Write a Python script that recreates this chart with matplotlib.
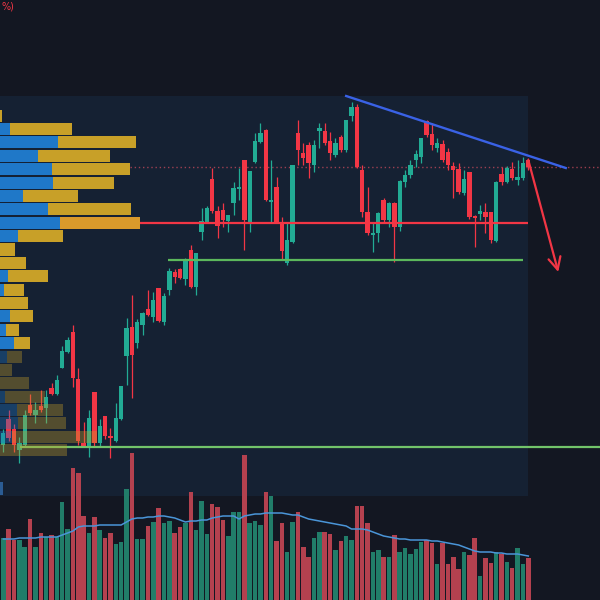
import matplotlib

matplotlib.use("Agg")
import matplotlib.pyplot as plt
import numpy as np
from matplotlib.patches import Rectangle

# candles, oldest first
opens = [55, 81, 71, 50, 55, 95, 85, 94, 92, 112, 106, 132, 148, 168, 121, 57, 54, 108, 57, 84,
         64, 59, 81, 144, 173, 157, 175, 191, 183, 212, 178, 210, 228, 231, 221, 250, 213, 268, 278, 321,
         289, 290, 279, 297, 311, 340, 278, 338, 358, 370, 298, 313, 277, 237, 258, 367, 347, 355, 335, 369,
         369, 359, 345, 363, 350, 384, 393, 330, 288, 265, 267, 300, 280, 297, 273, 318, 325, 340, 343, 379,
         366, 352, 356, 348, 334, 331, 307, 328, 284, 286, 288, 288, 259, 326, 318, 331, 320, 322, 340]
highs = [71, 90, 76, 63, 90, 106, 98, 110, 110, 117, 125, 154, 163, 175, 132, 78, 90, 108, 81, 84,
         72, 97, 114, 182, 205, 181, 188, 210, 208, 212, 207, 232, 231, 232, 242, 255, 247, 292, 294, 332,
         294, 297, 285, 318, 332, 340, 329, 367, 377, 371, 340, 323, 283, 277, 335, 380, 357, 358, 360, 377,
         377, 368, 362, 365, 380, 398, 396, 335, 313, 278, 288, 302, 298, 298, 320, 330, 340, 350, 362, 380,
         377, 362, 360, 352, 338, 337, 330, 328, 285, 295, 297, 288, 319, 333, 334, 338, 340, 343, 342]
lows = [48, 59, 48, 37, 54, 85, 77, 88, 77, 105, 105, 132, 147, 113, 55, 53, 43, 53, 53, 61,
        42, 58, 80, 115, 102, 152, 165, 184, 178, 178, 175, 205, 217, 221, 215, 212, 205, 260, 277, 287,
        262, 273, 268, 285, 300, 250, 268, 337, 357, 299, 277, 277, 240, 235, 257, 335, 335, 322, 328, 352,
        355, 340, 343, 348, 348, 379, 332, 283, 265, 248, 258, 277, 273, 238, 269, 313, 322, 333, 337, 363,
        350, 348, 338, 330, 302, 306, 305, 281, 253, 280, 267, 257, 258, 315, 317, 320, 315, 320, 330]
closes = [67, 62, 55, 57, 85, 87, 90, 90, 103, 106, 120, 149, 160, 122, 59, 54, 82, 57, 74, 64,
          62, 82, 114, 172, 145, 178, 187, 185, 200, 179, 204, 229, 223, 222, 240, 213, 247, 279, 292, 289,
          274, 280, 285, 312, 313, 280, 329, 359, 367, 300, 300, 277, 249, 260, 335, 350, 342, 337, 355, 372,
          357, 347, 357, 350, 380, 393, 333, 288, 267, 267, 287, 280, 297, 273, 319, 325, 335, 346, 362, 365,
          355, 357, 340, 335, 330, 308, 321, 283, 282, 289, 283, 260, 318, 318, 332, 322, 323, 337, 333]
volumes = [62, 71, 60, 60, 53, 81, 53, 67, 63, 65, 63, 98, 71, 132, 127, 84, 67, 83, 70, 62,
           67, 56, 58, 111, 147, 61, 61, 74, 78, 92, 77, 79, 67, 73, 77, 108, 70, 99, 66, 96,
           93, 80, 64, 88, 88, 145, 77, 79, 75, 108, 104, 59, 77, 48, 78, 88, 53, 43, 62, 68,
           68, 66, 50, 59, 64, 60, 94, 94, 77, 48, 50, 43, 43, 65, 48, 52, 46, 51, 58, 60,
           57, 36, 57, 36, 43, 31, 48, 45, 62, 24, 42, 37, 48, 46, 38, 32, 52, 36, 42]
volume_ma = [61, 61, 61, 62, 62, 62, 62, 63, 63, 63, 63, 65, 67, 69, 73, 74, 74, 74, 75, 75,
             75, 75, 75, 78, 81, 82, 82, 83, 83, 84, 84, 83, 82, 80, 78, 79, 79, 80, 80, 82,
             83, 84, 84, 84, 81, 84, 85, 86, 86, 87, 87, 87, 87, 86, 85, 85, 83, 81, 80, 79,
             78, 77, 76, 75, 74, 71, 71, 71, 70, 68, 66, 64, 63, 62, 61, 61, 60, 60, 60, 60,
             59, 59, 58, 57, 56, 55, 53, 51, 49, 48, 48, 48, 47, 47, 46, 46, 46, 45, 44]

# visible-range volume profile, top row first
profile_top = 391.0
profile_row = 13.38
profile_up = [0, 10, 58, 38, 52, 53, 23, 48, 60, 18, 0, 0, 8, 4, 0, 10, 6, 14, 7, 0, 0, 5, 17, 18, 12, 0]
profile_down = [2, 62, 78, 72, 78, 61, 55, 83, 80, 45, 15, 26, 40, 20, 28, 23, 13, 16, 15, 12, 29, 40, 46, 48, 85, 67]
value_area_rows = 18
poc_row = 8

# drawings
poc_price = 277
last_price = 333
support_price = 240
base_price = 53
trend_bars = [64.0, 105.0]
trend_prices = [404, 332]
arrow_bars = [98.0, 103.6]
arrow_prices = [340, 228]

BG = "#131722"
PANEL = "#152133"
UP = "#22ab94"
DOWN = "#f23645"
VOL_UP = "#217d69"
VOL_DOWN = "#b4414f"
PROF_UP = "#1f78c8"
PROF_DOWN = "#c8a028"

FIRST_PX = 3.3
BAR_PX = 5.357


def px_to_bar(px):
    return (px - FIRST_PX) / BAR_PX


fig = plt.figure(figsize=(6, 6), dpi=100, facecolor=BG)
ax = fig.add_axes([0, 0, 1, 1], zorder=1)
ax.set_facecolor(BG)
ax.set_xlim(px_to_bar(0), px_to_bar(600))
ax.set_ylim(-100, 500)
ax.axis("off")
ax.add_patch(Rectangle((0, 104 / 600), 527.5 / 600, 400 / 600, transform=ax.transAxes,
                       facecolor=PANEL, edgecolor="none", zorder=0))

x = np.arange(len(opens))
o = np.array(opens, dtype=float)
c = np.array(closes, dtype=float)
colors = np.where(c >= o, UP, DOWN)
ax.vlines(x, lows, highs, colors=colors, linewidth=0.9, zorder=3)
ax.bar(x, np.maximum(np.abs(c - o), 1.5), bottom=np.minimum(o, c), width=0.82,
       color=colors, linewidth=0, zorder=4)

ax.hlines(poc_price, px_to_bar(0), px_to_bar(527.5), color=DOWN, linewidth=1.6, zorder=5)
ax.hlines(last_price, px_to_bar(130), px_to_bar(600), color="#c0485a", alpha=0.8,
          linewidth=1.0, linestyles=(0, (1, 2)), zorder=2)
ax.hlines(support_price, px_to_bar(168), px_to_bar(523), color="#5cb85c", linewidth=1.6, zorder=5)
ax.hlines(base_price, px_to_bar(20), px_to_bar(600), color="#72c46a", linewidth=1.6, zorder=5)
ax.plot(trend_bars, trend_prices, color="#3a62e6", linewidth=1.7, zorder=6)
ax.annotate("", xy=(arrow_bars[1], arrow_prices[1]), xytext=(arrow_bars[0], arrow_prices[0]),
            arrowprops=dict(arrowstyle="->", color=DOWN, lw=1.6, mutation_scale=22,
                            shrinkA=0, shrinkB=0), zorder=6)

axv = fig.add_axes([0, 0, 1, 1], zorder=2)
axv.set_xlim(ax.get_xlim())
axv.set_ylim(0, 600)
axv.patch.set_alpha(0)
axv.axis("off")
vcolors = np.where(c >= o, VOL_UP, VOL_DOWN)
axv.bar(x, volumes, width=0.84, color=vcolors, linewidth=0)
axv.plot(x, volume_ma, color="#4a95d8", linewidth=1.1)

axp = fig.add_axes([0, 0, 1, 1], zorder=3)
axp.set_xlim(0, 600)
axp.set_ylim(-100, 500)
axp.patch.set_alpha(0)
axp.axis("off")
for k, (up_v, down_v) in enumerate(zip(profile_up, profile_down)):
    center = profile_top - (k + 0.5) * profile_row
    alpha = 1.0 if k < value_area_rows else 0.35
    gold = "#d99a2b" if k == poc_row else PROF_DOWN
    axp.barh(center, up_v, left=0, height=profile_row * 0.9, color=PROF_UP, alpha=alpha, linewidth=0)
    axp.barh(center, down_v, left=up_v, height=profile_row * 0.9, color=gold, alpha=alpha, linewidth=0)

fig.text(0.002, 0.998, "%)", color=DOWN, fontsize=7, ha="left", va="top")
fig.patches.append(Rectangle((0, 105 / 600), 3 / 600, 13 / 600, transform=fig.transFigure,
                             facecolor="#2b5c94", edgecolor="none", figure=fig))

fig.savefig("out.png", dpi=100, facecolor=BG)
